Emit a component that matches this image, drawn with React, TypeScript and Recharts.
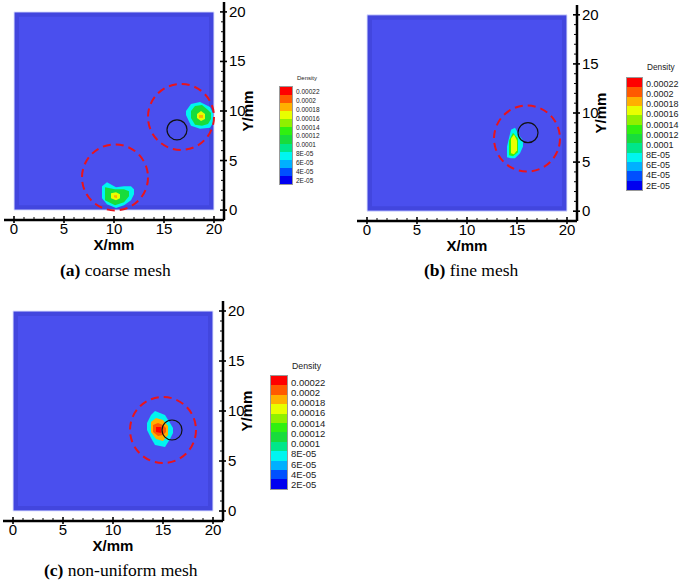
import React from 'react';
import {
  ComposedChart,
  Area,
  XAxis,
  YAxis,
  ReferenceArea,
  ReferenceDot,
} from 'recharts';

// axis ticks (every mm, labels on multiples of 5)
const axisTicks = [0, 1, 2, 3, 4, 5, 6, 7, 8, 9, 10, 11, 12, 13, 14, 15, 16, 17, 18, 19, 20];

// density contour levels, top of colour bar first
const densityLabels = [
  '0.00022', '0.0002', '0.00018', '0.00016', '0.00014', '0.00012',
  '0.0001', '8E-05', '6E-05', '4E-05', '2E-05',
];
// band colours, bottom (index 0) to top (index 11)
const levelColors = [
  '#0000f0', '#0050ff', '#00b0ff', '#00f5f0', '#00e68a', '#18dc3c',
  '#30f010', '#90f000', '#e8ff00', '#ffb000', '#ff5a00', '#ff0000',
];

type Row = { x: number; lo: number; hi: number };
type Layer = { level: number; rows: Row[] };

// (a) coarse mesh – two particle blobs
const coarseLayers: Layer[] = [
  { level: 3, rows: [
    { x: 17.2, lo: 9.6, hi: 10.0 }, { x: 17.7, lo: 8.5, hi: 10.7 }, { x: 18.6, lo: 8.2, hi: 10.9 },
    { x: 19.6, lo: 8.3, hi: 10.4 }, { x: 19.9, lo: 8.8, hi: 9.8 },
  ] },
  { level: 5, rows: [
    { x: 17.7, lo: 9.3, hi: 10.0 }, { x: 18.1, lo: 8.6, hi: 10.5 }, { x: 18.8, lo: 8.5, hi: 10.6 },
    { x: 19.4, lo: 8.7, hi: 10.1 }, { x: 19.7, lo: 9.2, hi: 9.8 },
  ] },
  { level: 8, rows: [
    { x: 18.3, lo: 9.3, hi: 9.7 }, { x: 18.7, lo: 9.0, hi: 10.0 }, { x: 19.1, lo: 9.2, hi: 9.7 },
  ] },
  { level: 9, rows: [{ x: 18.5, lo: 9.3, hi: 9.6 }, { x: 18.9, lo: 9.3, hi: 9.6 }] },
  { level: 3, rows: [
    { x: 8.8, lo: 1.2, hi: 2.4 }, { x: 9.3, lo: 0.6, hi: 2.8 }, { x: 10.2, lo: 0.2, hi: 2.3 },
    { x: 11.0, lo: 0.5, hi: 2.4 }, { x: 11.7, lo: 1.0, hi: 2.4 }, { x: 12.0, lo: 1.6, hi: 2.1 },
  ] },
  { level: 5, rows: [
    { x: 9.1, lo: 1.0, hi: 2.3 }, { x: 10.1, lo: 0.5, hi: 2.1 }, { x: 11.0, lo: 0.8, hi: 2.1 },
    { x: 11.5, lo: 1.4, hi: 1.9 },
  ] },
  { level: 8, rows: [{ x: 9.7, lo: 1.2, hi: 1.7 }, { x: 10.2, lo: 1.0, hi: 1.8 }, { x: 10.6, lo: 1.2, hi: 1.6 }] },
  { level: 9, rows: [{ x: 10.0, lo: 1.3, hi: 1.5 }, { x: 10.3, lo: 1.2, hi: 1.5 }] },
];

// (b) fine mesh
const fineLayers: Layer[] = [
  { level: 3, rows: [
    { x: 14.0, lo: 5.5, hi: 6.6 }, { x: 14.4, lo: 5.4, hi: 8.3 }, { x: 14.8, lo: 5.4, hi: 8.5 },
    { x: 15.3, lo: 5.9, hi: 7.6 }, { x: 15.6, lo: 6.6, hi: 7.2 },
  ] },
  { level: 6, rows: [{ x: 14.2, lo: 5.7, hi: 7.2 }, { x: 14.6, lo: 5.6, hi: 8.0 }, { x: 15.1, lo: 6.0, hi: 7.4 }] },
  { level: 8, rows: [{ x: 14.4, lo: 5.9, hi: 7.4 }, { x: 14.7, lo: 5.8, hi: 7.8 }, { x: 15.0, lo: 6.2, hi: 7.2 }] },
];

// (c) non-uniform mesh
const nonUniformLayers: Layer[] = [
  { level: 3, rows: [
    { x: 13.4, lo: 8.1, hi: 8.8 }, { x: 13.8, lo: 7.3, hi: 9.6 }, { x: 14.2, lo: 6.6, hi: 10.0 },
    { x: 15.2, lo: 6.4, hi: 9.6 }, { x: 15.7, lo: 7.2, hi: 8.8 }, { x: 16.0, lo: 7.8, hi: 8.3 },
  ] },
  { level: 9, rows: [
    { x: 13.8, lo: 7.9, hi: 8.9 }, { x: 14.3, lo: 7.2, hi: 9.3 }, { x: 15.0, lo: 7.0, hi: 9.1 },
    { x: 15.5, lo: 7.6, hi: 8.5 },
  ] },
  { level: 10, rows: [
    { x: 14.0, lo: 7.9, hi: 8.6 }, { x: 14.5, lo: 7.5, hi: 8.8 }, { x: 15.0, lo: 7.6, hi: 8.6 },
    { x: 15.3, lo: 7.9, hi: 8.3 },
  ] },
  { level: 11, rows: [{ x: 14.3, lo: 7.9, hi: 8.4 }, { x: 14.8, lo: 7.8, hi: 8.4 }] },
];

// dashed search zones and the particle (black circle)
const coarseZones = [{ x: 16.7, y: 9.4 }, { x: 10.1, y: 3.3 }];
const coarseParticle = [{ x: 16.3, y: 8.1 }];
const fineZones = [{ x: 16.0, y: 7.4 }];
const fineParticle = [{ x: 16.1, y: 8.0 }];
const nonUniformZones = [{ x: 15.0, y: 8.1 }];
const nonUniformParticle = [{ x: 15.9, y: 8.1 }];

const AXIS_FONT = '"Liberation Sans", Arial, sans-serif';

function XTick(props: any) {
  const { x, y, payload } = props;
  const major = payload.value % 5 === 0;
  return (
    <g>
      <line x1={x} x2={x} y1={y - (major ? 4 : 3)} y2={y + (major ? 3 : 0)} stroke="#000" strokeWidth={major ? 1.6 : 1} />
      {major && (
        <text x={x} y={y + 14} textAnchor="middle" fontSize={15} fontFamily={AXIS_FONT} fill="#000">
          {payload.value}
        </text>
      )}
    </g>
  );
}

function YTick(props: any) {
  const { x, y, payload } = props;
  const major = payload.value % 5 === 0;
  return (
    <g>
      <line x1={x - (major ? 4 : 3)} x2={x + (major ? 3 : 0)} y1={y} y2={y} stroke="#000" strokeWidth={major ? 1.6 : 1} />
      {major && (
        <text x={x + 5} y={y + 5} textAnchor="start" fontSize={15} fontFamily={AXIS_FONT} fill="#000">
          {payload.value}
        </text>
      )}
    </g>
  );
}

interface PanelProps {
  left: number;
  top: number;
  plotW: number;
  plotH: number;
  layers: Layer[];
  zones: { x: number; y: number }[];
  particles: { x: number; y: number }[];
}

function Panel({ left, top, plotW, plotH, layers, zones, particles }: PanelProps) {
  const yW = 48;
  const xH = 50;
  return (
    <div style={{ position: 'absolute', left, top }}>
      <ComposedChart width={plotW + yW} height={plotH + xH} margin={{ top: 0, right: 0, bottom: 0, left: 0 }}>
        <XAxis
          dataKey="x"
          type="number"
          domain={[-1, 21]}
          ticks={axisTicks}
          interval={0}
          height={xH}
          tickSize={0}
          tickMargin={0}
          tickLine={false}
          tick={<XTick />}
          axisLine={{ stroke: '#000', strokeWidth: 2.5 }}
          label={{ value: 'X/mm', position: 'center', fontSize: 15, fontWeight: 'bold', fontFamily: AXIS_FONT, fill: '#000' }}
        />
        <YAxis
          type="number"
          orientation="right"
          domain={[-1, 21]}
          ticks={axisTicks}
          interval={0}
          width={yW}
          tickSize={0}
          tickMargin={0}
          tickLine={false}
          tick={<YTick />}
          axisLine={{ stroke: '#000', strokeWidth: 2.5 }}
          label={{ value: 'Y/mm', angle: -90, position: 'center', fontSize: 15, fontWeight: 'bold', fontFamily: AXIS_FONT, fill: '#000' }}
        />
        <ReferenceArea x1={0} x2={20} y1={0} y2={20} fill="#4246de" fillOpacity={1} stroke="#dfe3ff" strokeWidth={1} />
        <ReferenceArea x1={0.5} x2={19.5} y1={0.5} y2={19.5} fill="#4a4fee" fillOpacity={1} stroke="none" />
        {layers.map((layer, i) => (
          <Area
            key={i}
            data={layer.rows}
            dataKey={(r: Row) => [r.lo, r.hi]}
            type="linear"
            stroke="none"
            fill={levelColors[layer.level]}
            fillOpacity={1}
            isAnimationActive={false}
            dot={false}
            activeDot={false}
          />
        ))}
        {zones.map((z, i) => (
          <ReferenceDot key={`z${i}`} x={z.x} y={z.y} r={33} fill="none" stroke="#e8141c" strokeWidth={2} strokeDasharray="8 5" />
        ))}
        {particles.map((p, i) => (
          <ReferenceDot key={`p${i}`} x={p.x} y={p.y} r={10} fill="none" stroke="#111" strokeWidth={1.2} />
        ))}
      </ComposedChart>
    </div>
  );
}

interface BarProps {
  left: number;
  top: number;
  barW: number;
  barH: number;
  fontSize: number;
}

function ColorBar({ left, top, barW, barH, fontSize }: BarProps) {
  const bandH = barH / levelColors.length;
  const bands = [...levelColors].reverse();
  return (
    <div style={{ position: 'absolute', left, top, fontFamily: AXIS_FONT, color: '#222' }}>
      <div style={{ position: 'absolute', left: barW + 6, top: -bandH * 0.9 - fontSize * 0.6, fontSize: fontSize * 0.92, whiteSpace: 'nowrap' }}>
        Density
      </div>
      <div style={{ position: 'absolute', left: 0, top: 0, width: barW, height: barH, border: '0.5px solid #999' }}>
        {bands.map((c, i) => (
          <div key={i} style={{ height: bandH, background: c }} />
        ))}
      </div>
      {densityLabels.map((t, i) => (
        <div
          key={t}
          style={{
            position: 'absolute',
            left: barW + 5,
            top: bandH * (0.78 + i * 1.09) - fontSize * 0.6,
            fontSize,
            lineHeight: `${fontSize * 1.2}px`,
            whiteSpace: 'nowrap',
          }}
        >
          {t}
        </div>
      ))}
    </div>
  );
}

function Caption({ left, top, tag, text }: { left: number; top: number; tag: string; text: string }) {
  return (
    <div style={{ position: 'absolute', left, top, fontFamily: '"Liberation Serif", "Times New Roman", serif', fontSize: 17.5, lineHeight: '20px', whiteSpace: 'nowrap', color: '#000' }}>
      <b>{tag}</b> {text}
    </div>
  );
}

export default function App() {
  return (
    <div style={{ position: 'absolute', left: 0, top: 0, width: 685, height: 580, background: '#fff', overflow: 'hidden' }}>
      <Panel left={4} top={2} plotW={220} plotH={218} layers={coarseLayers} zones={coarseZones} particles={coarseParticle} />
      <Panel left={357} top={5} plotW={220} plotH={216} layers={fineLayers} zones={fineZones} particles={fineParticle} />
      <Panel left={3} top={301} plotW={220} plotH={220} layers={nonUniformLayers} zones={nonUniformZones} particles={nonUniformParticle} />

      <ColorBar left={279} top={86} barW={12} barH={97} fontSize={6.5} />
      <ColorBar left={626} top={77} barW={15} barH={112} fontSize={9} />
      <ColorBar left={270} top={375} barW={16} barH={113} fontSize={9.5} />

      <Caption left={60} top={260} tag="(a)" text="coarse mesh" />
      <Caption left={424} top={260} tag="(b)" text="fine mesh" />
      <Caption left={44} top={560} tag="(c)" text="non-uniform mesh" />
    </div>
  );
}
